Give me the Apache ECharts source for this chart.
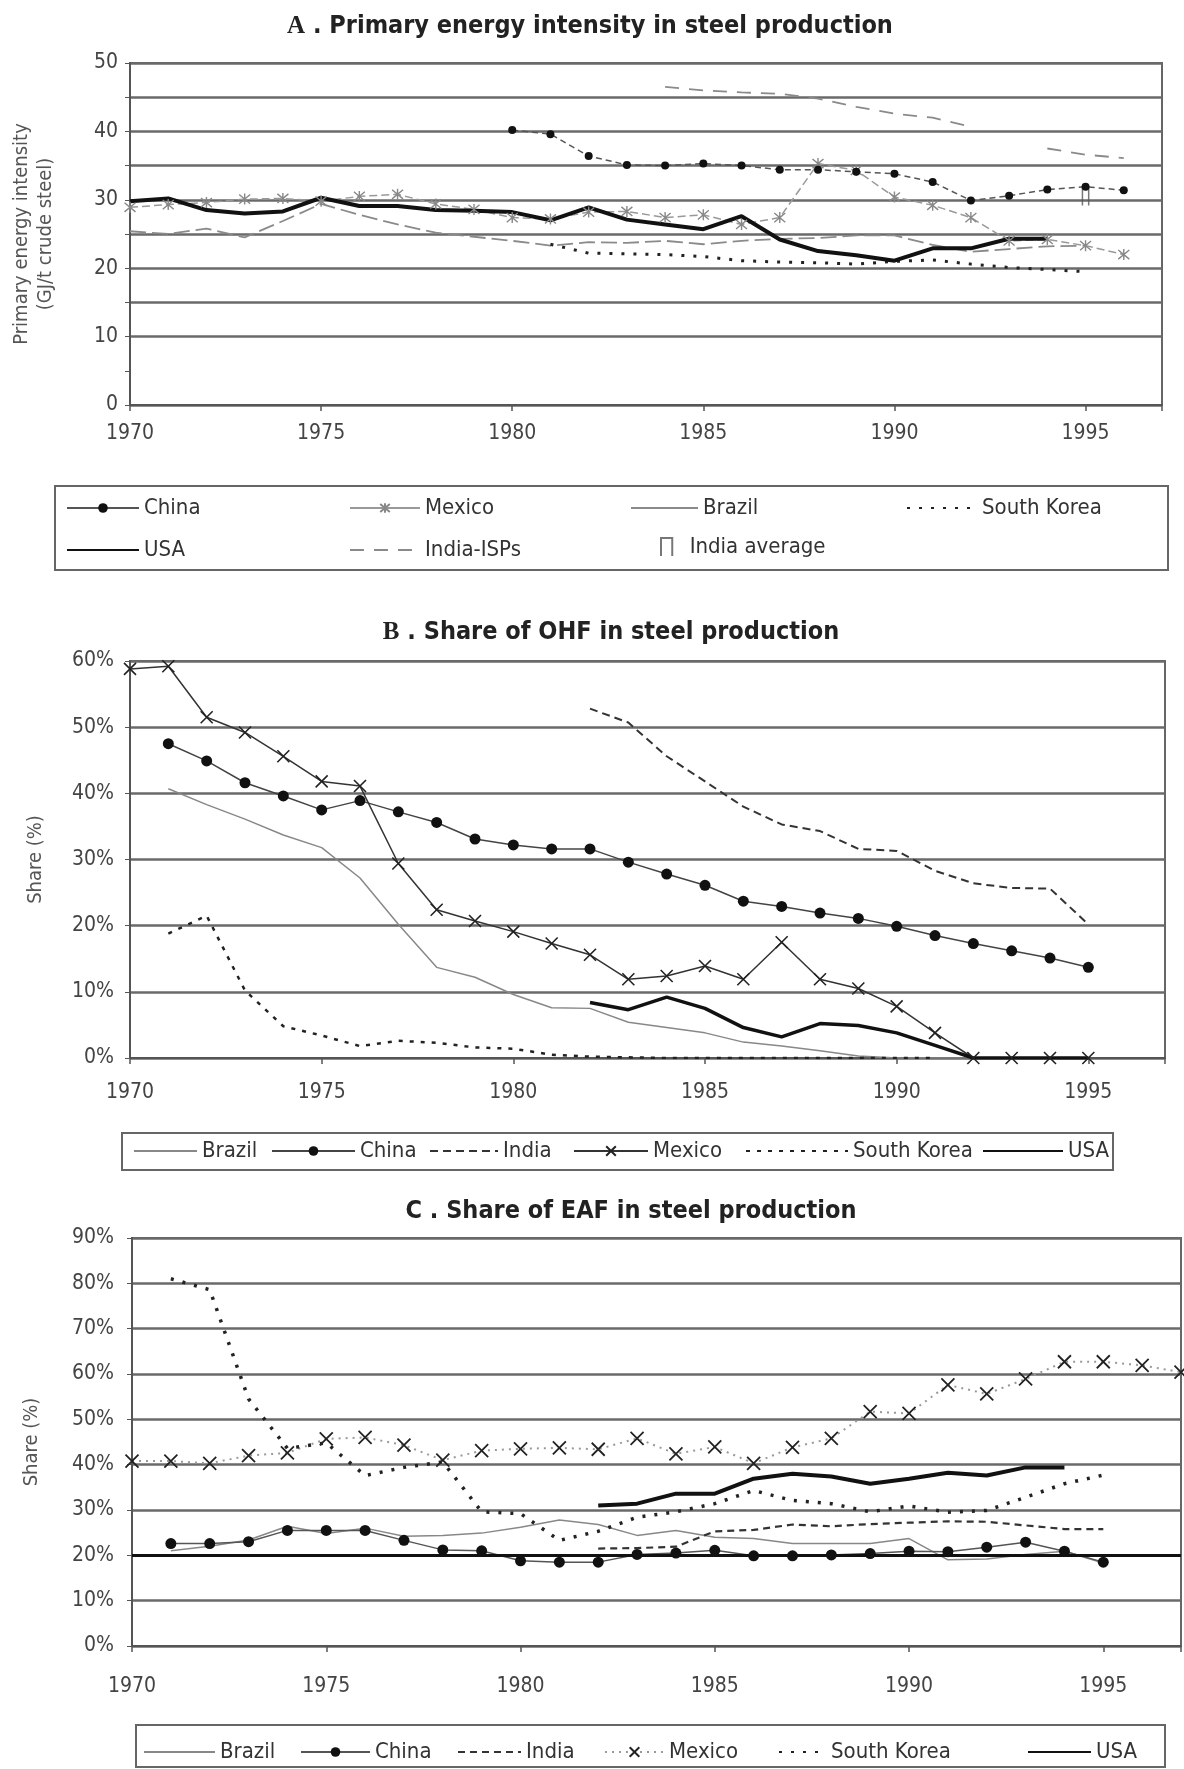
<!DOCTYPE html>
<html>
<head>
<meta charset="utf-8">
<title>Steel production: energy intensity, OHF and EAF shares</title>
<script src="https://cdn.jsdelivr.net/npm/echarts@6.0.0/dist/echarts.min.js"></script>
<style>
  html, body { margin: 0; padding: 0; background: #fff; }
  #chart { width: 1184px; height: 1769px; }
</style>
</head>
<body>
<div id="chart"></div>
<script>
// ---- values ----
// A. primary energy intensity (GJ/t crude steel), 1970-1996
const yearsA = [1970, 1971, 1972, 1973, 1974, 1975, 1976, 1977, 1978, 1979,
  1980, 1981, 1982, 1983, 1984, 1985, 1986, 1987, 1988, 1989,
  1990, 1991, 1992, 1993, 1994, 1995, 1996];
const chinaA = [null, null, null, null, null, null, null, null, null, null,
  40.2, 39.6, 36.4, 35.1, 35.0, 35.3, 35.0, 34.4, 34.4, 34.1,
  33.8, 32.6, 29.9, 30.6, 31.5, 31.9, 31.4];
const mexicoA = [28.9, 29.3, 29.6, 30.1, 30.2, 29.8, 30.5, 30.8, 29.4, 28.6,
  27.4, 27.2, 28.2, 28.3, 27.4, 27.8, 26.4, 27.4, 35.3, 34.3,
  30.4, 29.2, 27.4, 24.0, 24.2, 23.3, 22.0];
const brazilA = [25.4, 25.0, 25.8, 24.5, 26.9, 29.4, 27.8, 26.4, 25.2, 24.6,
  24.0, 23.3, 23.8, 23.7, 24.0, 23.5, 24.0, 24.3, 24.4, 24.8,
  24.8, 23.4, 22.4, 22.8, 23.2, 23.3, null];
const koreaA = [null, null, null, null, null, null, null, null, null, null,
  null, 23.5, 22.2, 22.1, 22.0, 21.7, 21.1, 20.9, 20.8, 20.6,
  21.0, 21.2, 20.6, 20.1, 19.8, 19.5, null];
const usaA = [29.8, 30.2, 28.5, 28.0, 28.3, 30.3, 29.1, 29.1, 28.5, 28.4,
  28.2, 27.0, 28.9, 27.1, 26.4, 25.7, 27.6, 24.2, 22.5, 21.9,
  21.1, 22.9, 22.9, 24.3, 24.3, null, null];
const indiaIspA = [null, null, null, null, null, null, null, null, null, null,
  null, null, null, null, 46.5, 46.0, 45.7, 45.5, 44.8, 43.6,
  42.6, 42.0, 40.7, null, 37.5, 36.6, 36.1];
const indiaAvgA = [null, null, null, null, null, null, null, null, null, null,
  null, null, null, null, null, null, null, null, null, null,
  null, null, null, null, null, 30.5, null];

// B. share of OHF in steel production (%), 1970-1995
const yearsB = [1970, 1971, 1972, 1973, 1974, 1975, 1976, 1977, 1978, 1979,
  1980, 1981, 1982, 1983, 1984, 1985, 1986, 1987, 1988, 1989,
  1990, 1991, 1992, 1993, 1994, 1995];
const brazilB = [null, 40.7, 38.3, 36.1, 33.7, 31.8, 27.2, 20.2, 13.7, 12.2,
  9.6, 7.6, 7.5, 5.4, 4.6, 3.8, 2.4, 1.8, 1.1, 0.3,
  0, 0, 0, null, null, null];
const chinaB = [null, 47.5, 44.9, 41.6, 39.6, 37.5, 38.9, 37.2, 35.6, 33.1,
  32.2, 31.6, 31.6, 29.6, 27.8, 26.1, 23.7, 22.9, 21.9, 21.1,
  19.9, 18.5, 17.3, 16.2, 15.1, 13.7];
const indiaB = [null, null, null, null, null, null, null, null, null, null,
  null, null, 52.8, 50.7, 45.6, 41.8, 38.0, 35.3, 34.3, 31.6,
  31.3, 28.3, 26.4, 25.7, 25.6, 20.2];
const mexicoB = [58.8, 59.2, 51.5, 49.2, 45.6, 41.8, 41.1, 29.4, 22.4, 20.7,
  19.1, 17.3, 15.6, 11.9, 12.4, 13.9, 11.9, 17.5, 11.9, 10.5,
  7.8, 3.8, 0, 0, 0, 0];
const koreaB = [null, 18.8, 21.5, 10.2, 4.8, 3.4, 1.8, 2.6, 2.3, 1.6,
  1.4, 0.5, 0.2, 0.1, 0, 0, 0, 0, 0, 0,
  0, 0, null, null, null, null];
const usaB = [null, null, null, null, null, null, null, null, null, null,
  null, null, 8.4, 7.3, 9.2, 7.5, 4.6, 3.2, 5.2, 4.9,
  3.8, 1.9, 0, 0, 0, 0];

// C. share of EAF in steel production (%), 1970-1997
const yearsC = [1970, 1971, 1972, 1973, 1974, 1975, 1976, 1977, 1978, 1979,
  1980, 1981, 1982, 1983, 1984, 1985, 1986, 1987, 1988, 1989,
  1990, 1991, 1992, 1993, 1994, 1995, 1996, 1997];
const brazilC = [null, 21.0, 22.0, 23.4, 26.4, 24.8, 26.0, 24.2, 24.4, 24.9,
  26.2, 27.8, 26.8, 24.4, 25.5, 24.0, 23.7, 22.6, 22.6, 22.6,
  23.7, 19.0, 19.2, 20.2, 20.9, 18.3, null, null];
const chinaC = [null, 22.6, 22.6, 23.0, 25.5, 25.5, 25.5, 23.3, 21.2, 21.0,
  18.8, 18.5, 18.5, 20.2, 20.5, 21.1, 19.9, 19.9, 20.1, 20.4,
  20.9, 20.8, 21.8, 22.9, 20.9, 18.5, null, null];
const indiaC = [null, null, null, null, null, null, null, null, null, null,
  null, null, 21.5, 21.6, 21.9, 25.3, 25.6, 26.8, 26.4, 26.9,
  27.2, 27.5, 27.4, 26.6, 25.8, 25.8, null, null];
const mexicoC = [40.8, 40.8, 40.3, 42.0, 42.6, 45.7, 46.0, 44.3, 41.0, 43.1,
  43.5, 43.7, 43.4, 45.8, 42.4, 43.9, 40.3, 43.8, 45.8, 51.7,
  51.3, 57.6, 55.6, 58.9, 62.7, 62.7, 61.9, 60.4];
const koreaC = [null, 81.0, 78.6, 54.5, 43.6, 44.8, 37.6, 39.4, 40.6, 29.6,
  29.2, 23.3, 25.3, 28.4, 29.6, 31.4, 34.3, 32.1, 31.4, 29.6,
  30.9, 29.5, 29.9, 32.8, 35.8, 37.7, null, null];
const usaC = [null, null, null, null, null, null, null, null, null, null,
  null, null, 31.0, 31.4, 33.6, 33.6, 36.9, 38.0, 37.4, 35.8,
  36.9, 38.2, 37.6, 39.4, 39.4, null, null, null];
const emphasisC = 20;   // the darker reference line in panel C

// ---- styling helpers ----
const NARROW = "'Liberation Sans Narrow', 'Arial Narrow', 'DejaVu Sans Condensed', 'Liberation Sans', sans-serif";
const SERIF = "'Liberation Serif', 'DejaVu Serif', serif";
const GRID_GRAY = '#6a6a6a';
const SYM_X = 'path://M0,0L10,10M10,0L0,10';
const SYM_STAR = 'path://M0,0L10,10M10,0L0,10M5,-1L5,11';
const SYM_CAP = 'path://M0,16L0,0L10,0L10,16';

const toPairs = (years, vals) => years.map((y, i) => [y, vals[i] == null ? '-' : vals[i]]);

function lineSeries(name, panel, years, vals, opts) {
  return Object.assign({
    name: name,
    type: 'line',
    xAxisIndex: panel,
    yAxisIndex: panel,
    data: toPairs(years, vals),
    symbol: 'none',
    showSymbol: false,
    animation: false,
    silent: true
  }, opts);
}

function xAxisFor(grid, margin) {
  return {
    type: 'value', gridIndex: grid, min: 1970, max: 1997, interval: 5,
    axisLine: { show: true, onZero: false, lineStyle: { color: '#555', width: 2 } },
    axisTick: { show: true, length: 6, lineStyle: { color: '#555', width: 1.5 } },
    splitLine: { show: false },
    axisLabel: {
      margin: margin, fontFamily: NARROW, fontSize: 21, color: '#444',
      formatter: v => (v % 5 === 0 ? String(v) : '')
    }
  };
}

function yAxisFor(grid, max, step, fmt, name, gap, margin, lineColors) {
  return {
    type: 'value', gridIndex: grid, min: 0, max: max, interval: step,
    name: name, nameLocation: 'middle', nameRotate: 90, nameGap: gap,
    nameTextStyle: { fontFamily: NARROW, fontSize: 20, color: '#555', lineHeight: 24 },
    axisLine: { show: true, lineStyle: { color: '#555', width: 2 } },
    axisTick: { show: true, length: 5, lineStyle: { color: '#555' } },
    splitLine: { show: true, lineStyle: { color: lineColors || GRID_GRAY, width: 2.5 } },
    axisLabel: { margin: margin, fontFamily: NARROW, fontSize: 21, color: '#444', formatter: fmt }
  };
}

// legend entry for a series drawn without markers: hide the default dot
const plain = (name, extra) => Object.assign({ name: name, itemStyle: { opacity: 0 } }, extra);

function legendItem(entry, left, top, width, extra) {
  return Object.assign({
    data: [entry], left: left, top: top, itemWidth: width, itemHeight: 12,
    padding: 0, selectedMode: false,
    formatter: n => n.slice(2),
    textStyle: { fontFamily: NARROW, fontSize: 22, color: '#333' }
  }, extra);
}

function boxRect(x, y, w, h) {
  return { type: 'rect', shape: { x: x, y: y, width: w, height: h },
    style: { fill: 'none', stroke: '#666', lineWidth: 2 }, silent: true };
}

// gridlines every 5 in panel A, the one at 5 is not drawn
const colorsA = yearsA.slice(0, 11).map((_, i) => (i === 1 ? 'rgba(0,0,0,0)' : GRID_GRAY));

const chart = echarts.init(document.getElementById('chart'));

const titleStyle = {
  fontFamily: NARROW, fontSize: 25, fontWeight: 'bold', color: '#222',
  rich: { s: { fontFamily: SERIF, fontSize: 25, fontWeight: 'bold', color: '#222' } }
};

const option = {
  backgroundColor: '#fff',
  animation: false,
  title: [
    { text: '{s|A} . Primary energy intensity in steel production', left: 585, top: 9, textAlign: 'center', textStyle: titleStyle },
    { text: '{s|B} . Share of OHF in steel production', left: 606, top: 615, textAlign: 'center', textStyle: titleStyle },
    { text: 'C . Share of EAF in steel production', left: 626, top: 1194, textAlign: 'center', textStyle: titleStyle }
  ],
  grid: [
    { left: 130, top: 63, width: 1032, height: 342, show: true, borderColor: '#666', borderWidth: 2 },
    { left: 130, top: 661, width: 1035, height: 397, show: true, borderColor: '#666', borderWidth: 2 },
    { left: 132, top: 1238, width: 1050, height: 408, show: true, borderColor: '#666', borderWidth: 2 }
  ],
  xAxis: [xAxisFor(0, 18), xAxisFor(1, 24), xAxisFor(2, 30)],
  yAxis: [
    yAxisFor(0, 50, 5, v => (v % 10 === 0 ? String(v) : ''),
      'Primary energy intensity\n(GJ/t crude steel)', 72, 12, colorsA),
    yAxisFor(1, 60, 10, v => v + '%', 'Share (%)', 82, 16),
    yAxisFor(2, 90, 10, v => v + '%', 'Share (%)', 88, 18)
  ],
  legend: [
    legendItem({ name: 'A:China', lineStyle: { type: 'solid' } }, 66, 497, 72),
    legendItem({ name: 'A:Mexico', lineStyle: { type: 'solid' } }, 349, 497, 70),
    legendItem(plain('A:Brazil', { lineStyle: { type: 'solid' } }), 630, 497, 67),
    legendItem(plain('A:South Korea'), 906, 497, 70),
    legendItem(plain('A:USA'), 66, 539, 72),
    legendItem(plain('A:India-ISPs'), 349, 539, 70),
    legendItem('A:India average', 660, 536, 36, { itemHeight: 18 }),
    legendItem(plain('B:Brazil'), 133, 1140, 63),
    legendItem('B:China', 271, 1140, 83),
    legendItem(plain('B:India'), 429, 1140, 68),
    legendItem('B:Mexico', 573, 1140, 74),
    legendItem(plain('B:South Korea'), 745, 1140, 102),
    legendItem(plain('B:USA'), 982, 1140, 80),
    legendItem(plain('C:Brazil'), 143, 1741, 71),
    legendItem('C:China', 300, 1741, 69),
    legendItem(plain('C:India'), 457, 1741, 63),
    legendItem('C:Mexico', 604, 1741, 59),
    legendItem(plain('C:South Korea'), 778, 1741, 47),
    legendItem(plain('C:USA'), 1027, 1741, 63)
  ],
  graphic: [
    boxRect(55, 486, 1113, 84),
    boxRect(122, 1133, 991, 37),
    boxRect(136, 1725, 1029, 42)
  ],
  series: [
    // panel A
    lineSeries('A:Brazil', 0, yearsA, brazilA, { lineStyle: { color: '#8a8a8a', width: 1.8, type: [16, 6] } }),
    lineSeries('A:India-ISPs', 0, yearsA, indiaIspA, { lineStyle: { color: '#8a8a8a', width: 1.8, type: [14, 10] } }),
    lineSeries('A:South Korea', 0, yearsA, koreaA, { lineStyle: { color: '#222', width: 3, type: [3, 9] } }),
    lineSeries('A:Mexico', 0, yearsA, mexicoA, {
      lineStyle: { color: '#999', width: 1.5, type: [8, 4] },
      symbol: SYM_STAR, showSymbol: true, symbolSize: 11,
      itemStyle: { color: 'rgba(0,0,0,0)', borderColor: '#888', borderWidth: 1.4 }
    }),
    lineSeries('A:China', 0, yearsA, chinaA, {
      lineStyle: { color: '#555', width: 1.5, type: [6, 4] },
      symbol: 'circle', showSymbol: true, symbolSize: 8,
      itemStyle: { color: '#111', borderWidth: 0 }
    }),
    lineSeries('A:USA', 0, yearsA, usaA, { lineStyle: { color: '#111', width: 4 } }),
    {
      name: 'A:India average', type: 'scatter', xAxisIndex: 0, yAxisIndex: 0,
      data: toPairs(yearsA, indiaAvgA), symbol: SYM_CAP, symbolSize: [10, 18], symbolKeepAspect: true,
      itemStyle: { color: 'rgba(0,0,0,0)', borderColor: '#555', borderWidth: 2 },
      animation: false, silent: true
    },
    // panel B
    lineSeries('B:Brazil', 1, yearsB, brazilB, { lineStyle: { color: '#888', width: 1.5 } }),
    lineSeries('B:China', 1, yearsB, chinaB, {
      lineStyle: { color: '#444', width: 1.5 },
      symbol: 'circle', showSymbol: true, symbolSize: 11,
      itemStyle: { color: '#111', borderWidth: 0 }
    }),
    lineSeries('B:India', 1, yearsB, indiaB, { lineStyle: { color: '#333', width: 2, type: [8, 5] } }),
    lineSeries('B:Mexico', 1, yearsB, mexicoB, {
      lineStyle: { color: '#333', width: 1.5 },
      symbol: SYM_X, showSymbol: true, symbolSize: 12,
      itemStyle: { color: 'rgba(0,0,0,0)', borderColor: '#222', borderWidth: 1.6 }
    }),
    lineSeries('B:South Korea', 1, yearsB, koreaB, { lineStyle: { color: '#222', width: 2.5, type: [4, 7] } }),
    lineSeries('B:USA', 1, yearsB, usaB, { lineStyle: { color: '#111', width: 3.5 } }),
    // panel C
    lineSeries('C:Brazil', 2, yearsC, brazilC, {
      lineStyle: { color: '#888', width: 1.5 },
      markLine: {
        silent: true, symbol: ['none', 'none'], label: { show: false }, animation: false,
        lineStyle: { color: '#111', width: 3, type: 'solid' },
        data: [{ yAxis: emphasisC }]
      }
    }),
    lineSeries('C:China', 2, yearsC, chinaC, {
      lineStyle: { color: '#555', width: 1.5 },
      symbol: 'circle', showSymbol: true, symbolSize: 11,
      itemStyle: { color: '#111', borderWidth: 0 }
    }),
    lineSeries('C:India', 2, yearsC, indiaC, { lineStyle: { color: '#333', width: 2.2, type: [7, 5] } }),
    lineSeries('C:Mexico', 2, yearsC, mexicoC, {
      lineStyle: { color: '#999', width: 2, type: [2, 5] },
      symbol: SYM_X, showSymbol: true, symbolSize: 13,
      itemStyle: { color: 'rgba(0,0,0,0)', borderColor: '#222', borderWidth: 1.8 }
    }),
    lineSeries('C:South Korea', 2, yearsC, koreaC, { lineStyle: { color: '#222', width: 3.5, type: [3, 9] } }),
    lineSeries('C:USA', 2, yearsC, usaC, { lineStyle: { color: '#111', width: 4 } })
  ]
};

chart.setOption(option);
window.addEventListener('resize', () => {
  chart.resize();
});
</script>
</body>
</html>
